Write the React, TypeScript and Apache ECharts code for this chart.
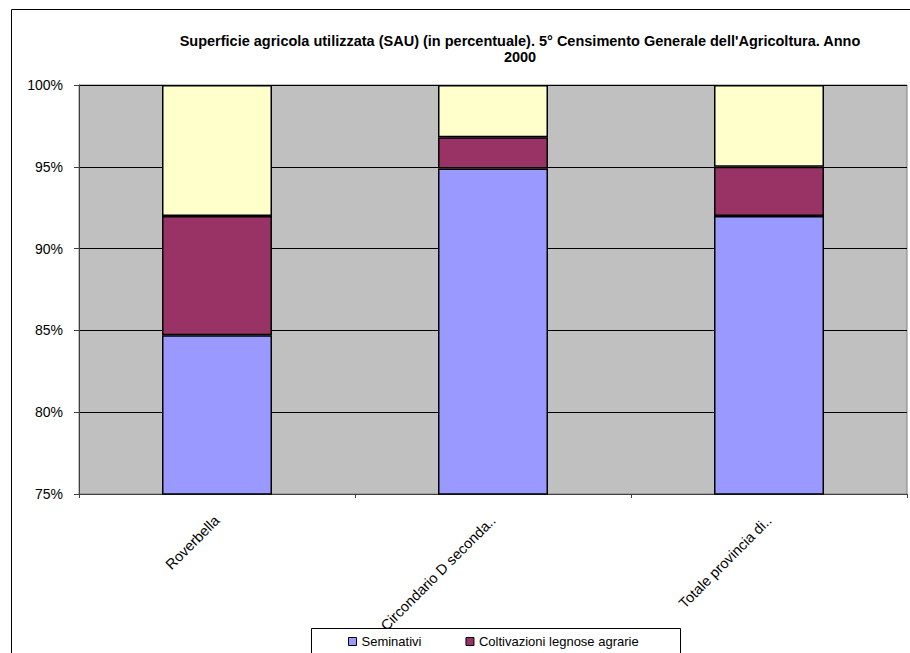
import React, { useEffect, useRef } from "react";
import * as echarts from "echarts";

const categories = ["Roverbella", "Circondario D seconda..", "Totale provincia di.."];
const seminativi = [84.7, 94.9, 92.0];
const coltivazioni = [7.3, 1.9, 3.0];
const prati = [8.0, 3.2, 5.0];
const seriesNames = ["Seminativi", "Coltivazioni legnose agrarie", "Prati permanenti e pascoli"];
const yTicks = { min: 75, max: 100, interval: 5 };
const titleText =
  "Superficie agricola utilizzata (SAU) (in percentuale). 5° Censimento Generale dell'Agricoltura. Anno\n2000";

const FONT = 'Arial, "Liberation Sans", sans-serif';

export default function App() {
  const ref = useRef<HTMLDivElement>(null);
  useEffect(() => {
    if (!ref.current) return;
    const chart = echarts.init(ref.current, null, { renderer: "svg" });
    const barStyle = (color: string) => ({ color, borderColor: "#000", borderWidth: 1.5 });
    chart.setOption({
      animation: false,
      backgroundColor: "#fff",
      title: {
        text: titleText,
        left: 515,
        top: 28,
        padding: 5,
        textAlign: "center",
        textStyle: { fontFamily: FONT, fontSize: 14.5, fontWeight: "bold", color: "#000", lineHeight: 16 },
      },
      graphic: [
        {
          type: "rect",
          z: -10,
          shape: { x: 11.5, y: 9.5, width: 1000, height: 1000 },
          style: { fill: "none", stroke: "#000", lineWidth: 1 },
        },
        {
          type: "rect",
          z: 5,
          shape: { x: 311.5, y: 628.5, width: 369, height: 40 },
          style: { fill: "#fff", stroke: "#000", lineWidth: 1 },
        },
      ],
      legend: {
        data: [seriesNames[0], seriesNames[1]],
        left: 348,
        top: 635,
        z: 6,
        padding: [0, 0, 0, 0],
        itemWidth: 8,
        itemHeight: 8,
        itemGap: 44,
        icon: "rect",
        itemStyle: { borderColor: "#000", borderWidth: 1 },
        textStyle: { fontFamily: FONT, fontSize: 13, color: "#000" },
      },
      grid: {
        left: 79,
        top: 85,
        right: 3,
        bottom: 159,
        show: true,
        backgroundColor: "#c0c0c0",
        borderColor: "#808080",
        borderWidth: 1,
      },
      xAxis: {
        type: "category",
        data: categories,
        axisLine: { lineStyle: { color: "#404040", width: 1 } },
        axisTick: { show: true, length: 4, lineStyle: { color: "#404040" } },
        axisLabel: {
          rotate: 45,
          margin: 24,
          interval: 0,
          fontFamily: FONT,
          fontSize: 14.5,
          color: "#000",
        },
      },
      yAxis: {
        type: "value",
        min: yTicks.min,
        max: yTicks.max,
        interval: yTicks.interval,
        axisLine: { show: true, lineStyle: { color: "#404040", width: 1 } },
        axisTick: { show: true, length: 5, lineStyle: { color: "#404040" } },
        axisLabel: {
          formatter: "{value}%",
          margin: 16,
          fontFamily: FONT,
          fontSize: 14,
          color: "#000",
        },
        splitLine: { show: true, lineStyle: { color: "#000", width: 1 } },
      },
      series: [
        { name: seriesNames[0], type: "bar", stack: "total", data: seminativi, barWidth: 110, itemStyle: barStyle("#9999ff") },
        { name: seriesNames[1], type: "bar", stack: "total", data: coltivazioni, barWidth: 110, itemStyle: barStyle("#993366") },
        { name: seriesNames[2], type: "bar", stack: "total", data: prati, barWidth: 110, itemStyle: barStyle("#ffffcc") },
      ],
    });
    return () => chart.dispose();
  }, []);
  return (
    <div
      ref={ref}
      style={{ position: "fixed", left: 0, top: 0, width: 910, height: 653, background: "#fff" }}
    />
  );
}
